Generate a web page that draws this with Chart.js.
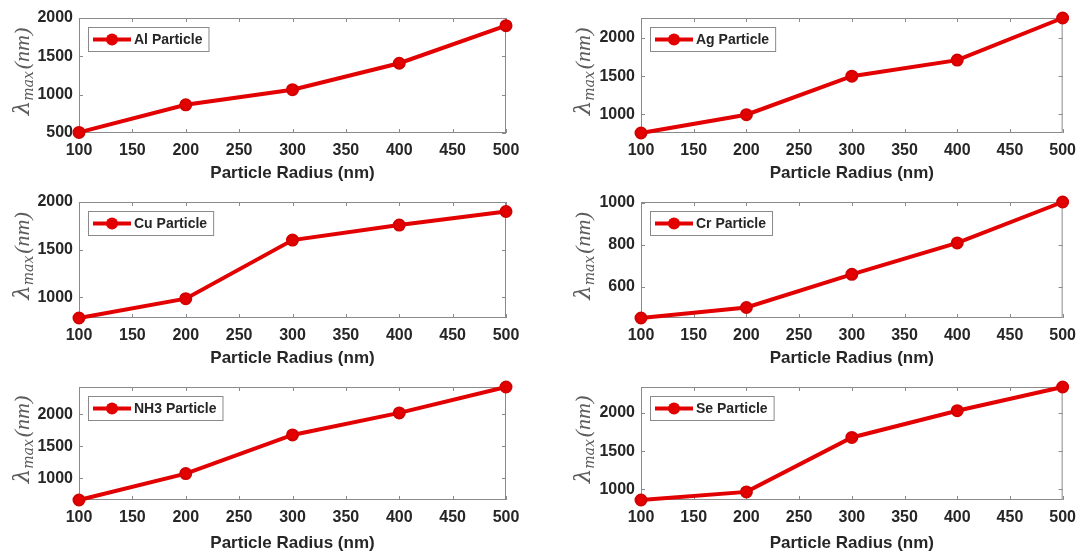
<!DOCTYPE html>
<html lang="en">

<head>
    <meta charset="UTF-8">
    <title>Particle radius vs lambda max</title>
    <style>
        body { margin: 0; background: #fff; }
        #wrap { position: relative; width: 1084px; height: 554px; overflow: hidden; }
        #wrap canvas { position: absolute; }
    </style>
</head>

<body>
    <div id="wrap">
        <canvas id="chAl" width="540" height="184" style="left:0;top:0"></canvas>
        <canvas id="chAg" width="544" height="184" style="left:540px;top:0"></canvas>
        <canvas id="chCu" width="540" height="185" style="left:0;top:184px"></canvas>
        <canvas id="chCr" width="544" height="185" style="left:540px;top:184px"></canvas>
        <canvas id="chNh3" width="540" height="185" style="left:0;top:369px"></canvas>
        <canvas id="chSe" width="544" height="185" style="left:540px;top:369px"></canvas>
    </div>
    <script src="https://cdn.jsdelivr.net/npm/chart.js"></script>
    <script>
        // particle radius (nm) on the x axis
        const radius = [100, 200, 300, 400, 500];
        const xTicks = [100, 150, 200, 250, 300, 350, 400, 450, 500];

        // lambda max (nm) for each particle
        const alValues = [508, 868, 1065, 1410, 1900];
        const agValues = [755, 995, 1500, 1710, 2262];
        const cuValues = [782, 985, 1600, 1758, 1900];
        const crValues = [452, 502, 660, 810, 1005];
        const nh3Values = [662, 1075, 1680, 2025, 2430];
        const seValues = [862, 968, 1680, 2030, 2340];

        // y limits and tick labels per plot
        const alTicks = [500, 1000, 1500, 2000];
        const agTicks = [1000, 1500, 2000];
        const cuTicks = [1000, 1500, 2000];
        const crTicks = [600, 800, 1000];
        const nh3Ticks = [1000, 1500, 2000];
        const seTicks = [1000, 1500, 2000];
        const alRange = [500, 2000];
        const agRange = [755, 2262];
        const cuRange = [782, 2000];
        const crRange = [452, 1005];
        const nh3Range = [662, 2430];
        const seRange = [862, 2340];

        const RED = 'rgb(226,0,0)';
        const TXT = '#262626';

        // box round the plot area + inward ticks on all four sides
        const boxPlugin = {
            id: 'boxPlugin',
            beforeDatasetsDraw(chart) {
                const { ctx, chartArea: a, scales } = chart;
                ctx.save();
                ctx.strokeStyle = '#8a8a8a';
                ctx.lineWidth = 1;
                ctx.strokeRect(a.left + 0.5, a.top + 0.5, a.width - 1, a.height - 1);
                ctx.beginPath();
                scales.x.ticks.forEach(function (t) {
                    const px = Math.round(scales.x.getPixelForValue(t.value)) + 0.5;
                    ctx.moveTo(px, a.bottom); ctx.lineTo(px, a.bottom - 4);
                    ctx.moveTo(px, a.top); ctx.lineTo(px, a.top + 4);
                });
                scales.y.ticks.forEach(function (t) {
                    const py = Math.round(scales.y.getPixelForValue(t.value)) + 0.5;
                    ctx.moveTo(a.left, py); ctx.lineTo(a.left + 4, py);
                    ctx.moveTo(a.right, py); ctx.lineTo(a.right - 4, py);
                });
                ctx.stroke();
                ctx.restore();
            }
        };

        // legend box in the upper left corner of the plot
        const boxLegend = {
            id: 'boxLegend',
            afterDatasetsDraw(chart, args, opts) {
                const { ctx, chartArea: a } = chart;
                ctx.save();
                ctx.font = 'bold 14px "Liberation Sans", Arial, sans-serif';
                const tw = ctx.measureText(opts.text).width;
                const x0 = a.left + 9, y0 = a.top + 9, h = 24;
                const w = 46 + tw + 6;
                ctx.fillStyle = '#fff';
                ctx.fillRect(x0, y0, w, h);
                ctx.strokeStyle = '#8a8a8a';
                ctx.lineWidth = 1;
                ctx.strokeRect(x0 + 0.5, y0 + 0.5, w, h);
                const cy = y0 + h / 2 + 0.5;
                ctx.strokeStyle = RED;
                ctx.lineWidth = 4;
                ctx.beginPath();
                ctx.moveTo(x0 + 5, cy); ctx.lineTo(x0 + 43, cy);
                ctx.stroke();
                ctx.fillStyle = RED;
                ctx.beginPath();
                ctx.arc(x0 + 24, cy, 6, 0, Math.PI * 2);
                ctx.fill();
                ctx.fillStyle = TXT;
                ctx.textBaseline = 'middle';
                ctx.fillText(opts.text, x0 + 46, cy + 1);
                ctx.restore();
            }
        };

        // rotated y title: lambda with "max" subscript
        const yTitle = {
            id: 'yTitle',
            afterDraw(chart, args, opts) {
                const { ctx, chartArea: a } = chart;
                const big = 'italic 23px "DejaVu Serif", "Liberation Serif", serif';
                const small = 'italic 14px "DejaVu Serif", "Liberation Serif", serif';
                const up = 'italic 22px "Liberation Serif", "DejaVu Serif", serif';
                ctx.save();
                ctx.translate(opts.x, (a.top + a.bottom) / 2 - 4);
                ctx.rotate(-Math.PI / 2);
                ctx.fillStyle = '#5c5c5c';
                ctx.textBaseline = 'alphabetic';
                ctx.font = big;
                const w1 = ctx.measureText('λ').width;
                ctx.font = small;
                const w2 = ctx.measureText('max').width;
                ctx.font = up;
                const w3 = ctx.measureText('(nm)').width;
                let x = -(w1 + w2 + w3 + 2) / 2;
                ctx.font = big;
                ctx.fillText('λ', x, 7);
                x += w1;
                ctx.font = small;
                ctx.fillText('max', x, 11);
                x += w2 + 2;
                ctx.font = up;
                ctx.fillText('(nm)', x, 7);
                ctx.restore();
            }
        };

        function makeChart(id, name, values, range, ticks, right, xh) {
            const yw = right ? 101 : 79;
            const padRight = right ? 16 : 34;
            const tickFont = { family: '"Liberation Sans", Arial, sans-serif', weight: 'bold', size: 16 };
            return new Chart(document.getElementById(id), {
                type: 'line',
                data: {
                    datasets: [{
                        label: name,
                        data: radius.map(function (r, i) { return { x: r, y: values[i] }; }),
                        borderColor: RED,
                        backgroundColor: RED,
                        borderWidth: 4,
                        pointRadius: 5.5,
                        pointBorderWidth: 2,
                        pointBorderColor: 'rgb(210,0,0)',
                        pointBackgroundColor: RED,
                        tension: 0,
                        clip: false
                    }]
                },
                options: {
                    responsive: false,
                    animation: false,
                    events: [],
                    layout: { padding: { top: 18, right: padRight, left: 0, bottom: 0 } },
                    plugins: {
                        legend: { display: false },
                        tooltip: { enabled: false },
                        boxLegend: { text: name },
                        yTitle: { x: right ? 43 : 22 }
                    },
                    scales: {
                        x: {
                            type: 'linear',
                            min: 100,
                            max: 500,
                            afterBuildTicks: function (s) { s.ticks = xTicks.map(function (v) { return { value: v }; }); },
                            afterFit: function (s) { s.height = xh; },
                            grid: { display: false, drawTicks: false },
                            border: { display: false },
                            ticks: {
                                autoSkip: false, maxRotation: 0, padding: 8,
                                color: TXT, font: tickFont,
                                callback: function (v) { return String(v); }
                            },
                            title: {
                                display: true,
                                text: 'Particle Radius (nm)',
                                color: TXT,
                                font: { family: '"Liberation Sans", Arial, sans-serif', weight: 'bold', size: 17 },
                                padding: { top: 0, bottom: 0 }
                            }
                        },
                        y: {
                            type: 'linear',
                            min: range[0],
                            max: range[1],
                            afterBuildTicks: function (s) { s.ticks = ticks.map(function (v) { return { value: v }; }); },
                            afterFit: function (s) { s.width = yw; },
                            grid: { display: false, drawTicks: false },
                            border: { display: false },
                            ticks: {
                                padding: 6, color: TXT, font: tickFont,
                                callback: function (v) { return String(v); }
                            }
                        }
                    }
                },
                plugins: [boxPlugin, boxLegend, yTitle]
            });
        }

        makeChart('chAl', 'Al Particle', alValues, alRange, alTicks, false, 51);
        makeChart('chAg', 'Ag Particle', agValues, agRange, agTicks, true, 51);
        makeChart('chCu', 'Cu Particle', cuValues, cuRange, cuTicks, false, 51);
        makeChart('chCr', 'Cr Particle', crValues, crRange, crTicks, true, 51);
        makeChart('chNh3', 'NH3 Particle', nh3Values, nh3Range, nh3Ticks, false, 54);
        makeChart('chSe', 'Se Particle', seValues, seRange, seTicks, true, 54);
    </script>
</body>

</html>
